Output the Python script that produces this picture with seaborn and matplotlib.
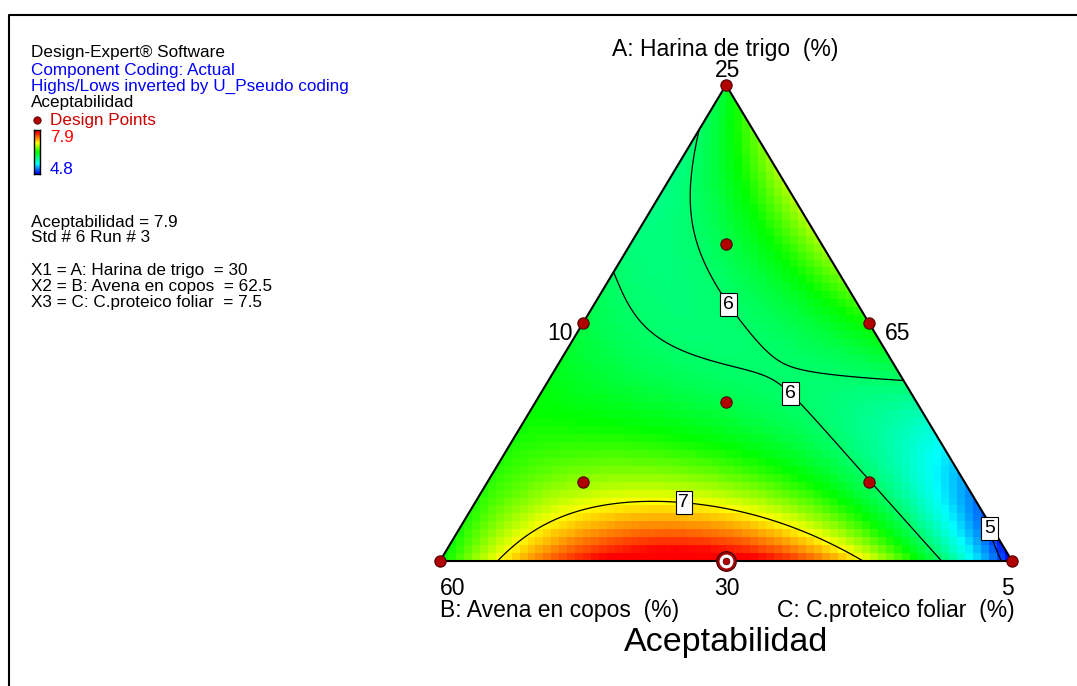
import numpy as np
import pandas as pd
import seaborn as sns
import matplotlib.pyplot as plt
from matplotlib.colors import LinearSegmentedColormap
from matplotlib.patches import Polygon

# design points in pseudo components (A top, B bottom-left, C bottom-right)
comp_a = [1, 0, 0, 0.5, 0.5, 0, 1/3, 2/3, 1/6, 1/6]
comp_b = [0, 1, 0, 0.5, 0, 0.5, 1/3, 1/6, 2/3, 1/6]
comp_c = [0, 0, 1, 0, 0.5, 0.5, 1/3, 1/6, 1/6, 2/3]
aceptabilidad = [6.2, 6.3, 4.8, 6.13, 6.4, 7.9, 6.1, 6.1, 6.73, 6.01]

contour_levels = [5, 6, 7]
vertex_label = ["25", "10", "65", "60", "30", "5"]
resp_min, resp_max = 4.8, 7.9
# response values where the colour ramp passes blue, cyan, green, yellow, red
ramp_values = [4.8, 5.5, 6.35, 7.0, 7.75, 7.9]
ramp_colors = ["#0000ff", "#00ffff", "#00ff00", "#ffff00", "#ff0000", "#ff0000"]

sns.set_theme(style="white")
plt.rcParams["font.family"] = ["Liberation Sans", "DejaVu Sans"]
plt.rcParams["text.color"] = "black"


def terms(a, b, c):
    # reduced cubic mixture model
    return np.stack([a, b, c, a * b, a * c, b * c,
                     a * b * (a - b), a * c * (a - c), a * b * c], axis=-1)


A = np.array(comp_a); B = np.array(comp_b); C = np.array(comp_c)
coef = np.linalg.lstsq(terms(A, B, C), np.array(aceptabilidad), rcond=None)[0]


def predict(x, y):
    a = y
    c = x - 0.5 * y
    b = 1 - a - c
    return terms(a, b, c) @ coef


df = pd.DataFrame({"x": C + 0.5 * A, "y": A, "resp": aceptabilidad})

nodes = [(v - resp_min) / (resp_max - resp_min) for v in ramp_values]
cmap = LinearSegmentedColormap.from_list("de", list(zip(nodes, ramp_colors)))

fig = plt.figure(figsize=(10.77, 6.86), dpi=100)

# background axes in pixel units for the side panel and frame
bg = fig.add_axes([0, 0, 1, 1])
bg.set_xlim(0, 1077)
bg.set_ylim(686, 0)
bg.axis("off")
bg.plot([9, 9, 1077], [686, 15, 15], color="black", lw=1.5)

fs = 12.3
bg.text(31, 53, "Design-Expert® Software", fontsize=fs, va="center", color="black")
bg.text(31, 70, "Component Coding: Actual", fontsize=fs, va="center", color="#0000ff")
bg.text(31, 86, "Highs/Lows inverted by U_Pseudo coding", fontsize=fs, va="center", color="#0000ff")
bg.text(31, 103, "Aceptabilidad", fontsize=fs, va="center", color="black")
bg.scatter([37], [119.5], s=28, color="#b00000", edgecolor="#500000", linewidth=0.6)
bg.text(50, 120, "Design Points", fontsize=fs, va="center", color="#cc0000")
bg.text(50, 137, "7.9", fontsize=fs, va="center", color="#ff0000")
bg.text(50, 170, "4.8", fontsize=fs, va="center", color="#0000ff")

bg.text(31, 222, "Aceptabilidad = 7.9", fontsize=fs, va="center")
bg.text(31, 238, "Std # 6 Run # 3", fontsize=fs, va="center")
bg.text(31, 270, "X1 = A: Harina de trigo  = 30", fontsize=fs, va="center")
bg.text(31, 287, "X2 = B: Avena en copos  = 62.5", fontsize=fs, va="center")
bg.text(31, 303, "X3 = C: C.proteico foliar  = 7.5", fontsize=fs, va="center")

# color legend bar
cax = fig.add_axes([34 / 1077, 1 - 174 / 686, 6 / 1077, 44 / 686])
cax.imshow(np.linspace(resp_min, resp_max, 60)[:, None], origin="lower",
           cmap=cmap, aspect="auto")
cax.set_xticks([]); cax.set_yticks([])
for s in cax.spines.values():
    s.set_visible(True); s.set_color("black"); s.set_linewidth(1)

# ternary axes: B=(0,0), C=(1,0), A=(0.5,1)
ax = fig.add_axes([440 / 1077, 1 - 561 / 686, 572 / 1077, 476 / 686])
ax.set_xlim(0, 1)
ax.set_ylim(0, 1)
ax.axis("off")
tri = Polygon([(0, 0), (1, 0), (0.5, 1)], closed=True, transform=ax.transData)

nx, ny = 72, 60
xc = (np.arange(nx) + 0.5) / nx
yc = (np.arange(ny) + 0.5) / ny
XC, YC = np.meshgrid(xc, yc)
img = ax.imshow(predict(XC, YC), extent=(0, 1, 0, 1), origin="lower", cmap=cmap,
                vmin=resp_min, vmax=resp_max, interpolation="nearest", aspect="auto")
img.set_clip_path(tri)

xf = np.linspace(0, 1, 400)
yf = np.linspace(0, 1, 400)
XF, YF = np.meshgrid(xf, yf)
cs = ax.contour(XF, YF, predict(XF, YF), levels=contour_levels, colors="black", linewidths=0.9)
cs.set_clip_path(tri)
lbls = ax.clabel(cs, inline=False, fontsize=14, fmt="%d",
                 manual=[(0.516, 0.548), (0.615, 0.355), (0.428, 0.145), (0.965, 0.069)])
for t in lbls:
    t.set_rotation(0)
    t.set_bbox(dict(boxstyle="square,pad=0.15", fc="white", ec="black", lw=0.8))
    t.set_zorder(6)

ax.plot([0, 1, 0.5, 0], [0, 0, 1, 0], color="black", lw=1.5, clip_on=False, zorder=4)

sns.scatterplot(data=df, x="x", y="y", ax=ax, color="#b00000", edgecolor="#500000",
                s=66, linewidth=0.8, legend=False, zorder=7, clip_on=False)
best = df.loc[[df["resp"].idxmax()]]
sns.scatterplot(data=best, x="x", y="y", ax=ax, color="#a00000", edgecolor="#400000",
                s=200, linewidth=0.8, legend=False, zorder=8, clip_on=False)
sns.scatterplot(data=best, x="x", y="y", ax=ax, color="white", edgecolor="white",
                s=100, linewidth=0, legend=False, zorder=9, clip_on=False)
sns.scatterplot(data=best, x="x", y="y", ax=ax, color="#b00000", edgecolor="#500000",
                s=24, linewidth=0.5, legend=False, zorder=10, clip_on=False)
ax.set_xlabel(""); ax.set_ylabel("")

lf = 16.5
ax.text(0.498, 1.075, "A: Harina de trigo  (%)", fontsize=lf, ha="center", va="center")
ax.text(0.502, 1.031, vertex_label[0], fontsize=lf, ha="center", va="center")
ax.text(0.2325, 0.477, vertex_label[1], fontsize=lf, ha="right", va="center")
ax.text(0.778, 0.477, vertex_label[2], fontsize=lf, ha="left", va="center")
ax.text(0.0, -0.057, vertex_label[3], fontsize=lf, ha="left", va="center")
ax.text(0.502, -0.057, vertex_label[4], fontsize=lf, ha="center", va="center")
ax.text(1.003, -0.057, vertex_label[5], fontsize=lf, ha="right", va="center")
ax.text(0.0, -0.105, "B: Avena en copos  (%)", fontsize=lf, ha="left", va="center")
ax.text(1.005, -0.105, "C: C.proteico foliar  (%)", fontsize=lf, ha="right", va="center")
ax.text(0.500, -0.172, "Aceptabilidad", fontsize=24.5, ha="center", va="center")

fig.savefig("out.png", dpi=100)
